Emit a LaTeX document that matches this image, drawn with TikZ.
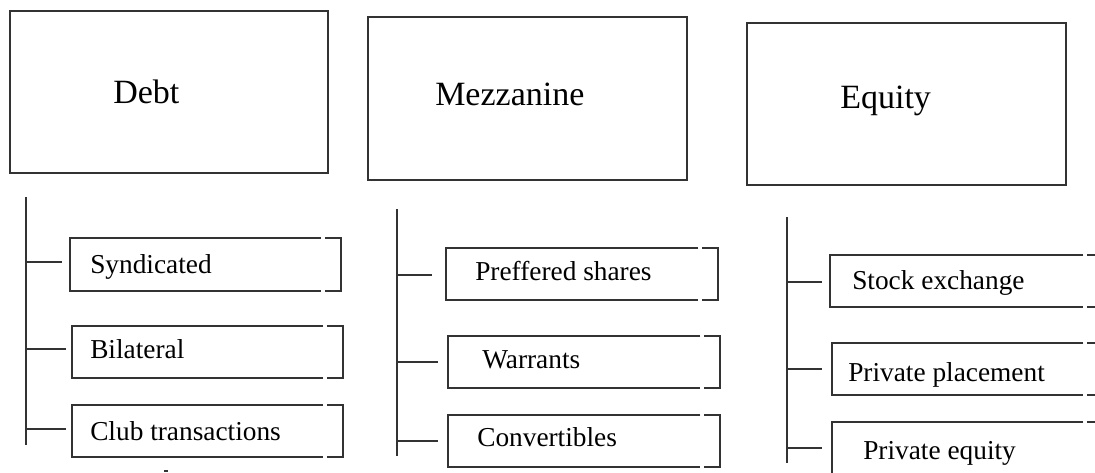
\documentclass[tikz,border=0pt]{standalone}
\usepackage{fontspec}
\setmainfont{Liberation Serif}
\usetikzlibrary{calc}

\tikzset{
  rule/.style={line width=1.4pt, draw=black!80},
  headbox/.style={rule, rectangle, inner sep=0pt},
  headtext/.style={inner sep=0pt, anchor=base west, font=\fontsize{25.5}{30}\selectfont},
  itemshape/.style={rectangle, inner sep=0pt},
  itemtext/.style={inner sep=0pt, anchor=base west, font=\fontsize{20.5}{24}\selectfont},
  % size of a box given in pixel units (1px = 0.75pt)
  pxsize/.style 2 args={minimum width=#1*0.75pt, minimum height=#2*0.75pt}
}

% box whose top and bottom lines are broken just before the right edge
\newcommand{\splitbox}[1]{%
  \draw[rule] ($(#1.north east)+(-20,0)$) -- (#1.north west) -- (#1.south west) -- ($(#1.south east)+(-20,0)$);
  \draw[rule] ($(#1.north east)+(-16,0)$) -- (#1.north east) -- (#1.south east) -- ($(#1.south east)+(-16,0)$);
}

\begin{document}
\begin{tikzpicture}[x=0.75pt, y=-0.75pt]
\useasboundingbox (0,0) rectangle (1095,472);
\clip (0,0) rectangle (1095,472);

% ---- headings ----
\node[headbox, pxsize={318}{162}] (debt) at (169,92) {};
\node[headbox, pxsize={319}{163}] (mezz) at (527.5,98.5) {};
\node[headbox, pxsize={319}{162}] (eq)   at (906.5,104) {};
\node[headtext] (debtT) at (113,103) {Debt};
\node[headtext] (mezzT) at (435,105) {Mezzanine};
\node[headtext] (eqT)   at (840,108) {Equity};

% ---- Debt column ----
\node[itemshape, pxsize={271}{53}] (d1) at (205.5,264.5) {};
\node[itemshape, pxsize={271}{52}] (d2) at (207.5,352) {};
\node[itemshape, pxsize={271}{52}] (d3) at (207.5,431) {};
\splitbox{d1}\splitbox{d2}\splitbox{d3}
\node[itemtext] (d1T) at (90,273) {Syndicated};
\node[itemtext] (d2T) at (90,358) {Bilateral};
\node[itemtext] (d3T) at (90,440) {Club transactions};
\coordinate (dtop) at (26,197);
\coordinate (dbot) at (26,445);
\draw[rule] (dtop) -- (dbot);
\draw[rule] (26,262) -- (62,262);
\draw[rule] (26,349) -- (66,349);
\draw[rule] (26,429) -- (66,429);

% ---- Mezzanine column ----
\node[itemshape, pxsize={272}{52}] (m1) at (582,274) {};
\node[itemshape, pxsize={272}{52}] (m2) at (584,362) {};
\node[itemshape, pxsize={272}{52}] (m3) at (584,441) {};
\splitbox{m1}\splitbox{m2}\splitbox{m3}
\node[itemtext] (m1T) at (475,280) {Preffered shares};
\node[itemtext] (m2T) at (482,368) {Warrants};
\node[itemtext] (m3T) at (477,446) {Convertibles};
\coordinate (mtop) at (397,209);
\coordinate (mbot) at (397,456);
\draw[rule] (mtop) -- (mbot);
\draw[rule] (397,275) -- (432,275);
\draw[rule] (397,362) -- (438,362);
\draw[rule] (397,441) -- (438,441);

% ---- Equity column ----
\node[itemshape, pxsize={273}{52}] (e1) at (966.5,281) {};
\node[itemshape, pxsize={271}{52}] (e2) at (967.5,369) {};
\node[itemshape, pxsize={271}{52}] (e3) at (967.5,448) {};
\splitbox{e1}\splitbox{e2}\splitbox{e3}
\node[itemtext] (e1T) at (852,289) {Stock exchange};
\node[itemtext] (e2T) at (848,381) {Private placement};
\node[itemtext] (e3T) at (863,459) {Private equity};
\coordinate (etop) at (787,217);
\coordinate (ebot) at (787,463);
\draw[rule] (etop) -- (ebot);
\draw[rule] (787,282) -- (822,282);
\draw[rule] (787,369) -- (822,369);
\draw[rule] (787,448) -- (822,448);

% stray mark below the Debt column
\fill[black!80] (164,469.5) rectangle (168,472);
\end{tikzpicture}
\end{document}
